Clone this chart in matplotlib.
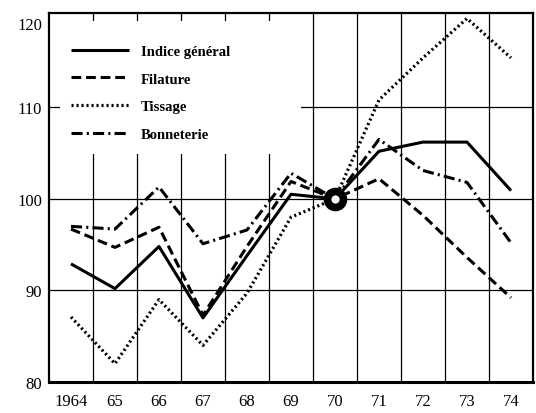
import matplotlib
matplotlib.use("Agg")
import matplotlib.pyplot as plt
from matplotlib.patches import Rectangle
from matplotlib.transforms import ScaledTranslation

plt.rcParams['font.family'] = ['Liberation Serif', 'DejaVu Serif']
plt.rcParams['lines.scale_dashes'] = False

# indices, base 100 en 1970
years = [1964, 1965, 1966, 1967, 1968, 1969, 1970, 1971, 1972, 1973, 1974]
year_labels = ['1964', '65', '66', '67', '68', '69', '70', '71', '72', '73', '74']
indice_general = [92.9, 90.2, 94.8, 87.0, 93.8, 100.5, 100, 105.2, 106.2, 106.2, 100.9]
filature = [96.7, 94.7, 96.9, 87.3, 94.8, 101.9, 100, 102.2, 98.2, 93.6, 89.2]
tissage = [87.1, 82.0, 89.0, 84.0, 89.7, 98.0, 100, 110.8, 115.4, 119.7, 115.4]
bonneterie = [97.0, 96.7, 101.3, 95.1, 96.6, 102.8, 100, 106.5, 103.1, 101.8, 95.2]
yticks = [80, 90, 100, 110, 120]

fig = plt.figure(figsize=(5.36, 4.14), dpi=100)
ax = fig.add_axes([0.0914, 0.0749, 0.903, 0.8913])

ax.plot(years, indice_general, color='black', lw=2.2, solid_capstyle='butt',
        label='Indice général', zorder=3)
ax.plot(years, filature, color='black', lw=2.2, dashes=(7, 3.5),
        label='Filature', zorder=3)
ax.plot(years, tissage, color='black', lw=2.3, dashes=(1.5, 2.1),
        label='Tissage', zorder=3)
ax.plot(years, bonneterie, color='black', lw=2.2, dashes=(8, 3, 1.5, 3),
        label='Bonneterie', zorder=3)
# base 1970 = 100
ax.plot(years[6], indice_general[6], 'o', ms=11.5, mfc='white', mec='black',
        mew=5.5, zorder=4)

ax.set_xlim(1963.5, 1974.5)
ax.set_ylim(80, 120.3)

# grille entre les annees
for x in years[:-1]:
    ax.axvline(x + 0.5, color='black', lw=0.9, zorder=1)
for y in yticks[1:-1]:
    ax.axhline(y, color='black', lw=0.9, zorder=1)

# cache blanc derriere la legende
ax.add_patch(Rectangle((0.023, 0.618), 0.497, 0.36, transform=ax.transAxes,
                       facecolor='white', edgecolor='none', zorder=2))

ax.set_xticks(years)
ax.set_xticklabels(year_labels)
ax.set_yticks(yticks)
ax.tick_params(axis='both', length=0, labelsize=12)
ax.tick_params(axis='x', pad=8)
ax.tick_params(axis='y', pad=5)

# le 120 est imprime un peu plus bas
top = ax.get_yticklabels()[-1]
top.set_transform(top.get_transform() + ScaledTranslation(0, -0.07, fig.dpi_scale_trans))

for s in ax.spines.values():
    s.set_linewidth(1.6)
ax.spines['bottom'].set_linewidth(2.2)

leg = ax.legend(loc='upper left', bbox_to_anchor=(0.018, 0.95), frameon=False,
                prop={'weight': 'bold', 'size': 10.5}, handlelength=4.0,
                handletextpad=0.8, labelspacing=1.0, borderpad=0.4)
leg.set_zorder(5)

fig.savefig('out.png', dpi=100)
